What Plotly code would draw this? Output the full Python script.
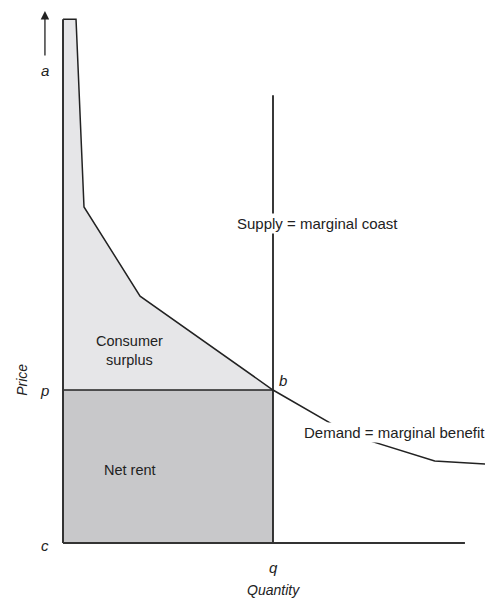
import plotly.graph_objects as go

# Data (quantity units, price units)
demand_q = [0, 6.2, 10, 36.7, 100, 137, 177, 201]
demand_p = [102.7, 102.7, 65.9, 48.4, 30, 21.2, 16.1, 15.5]
q_eq = 100
p_eq = 30
c_level = 0
supply_top = 87.8
axis_x_end = 191.4
axis_y_top = 102.7

# Consumer surplus polygon (area under demand, above p)
cs_q = [0] + demand_q[:5] + [0]
cs_p = [p_eq] + demand_p[:5] + [p_eq]

# Net rent rectangle
nr_q = [0, 0, q_eq, q_eq, 0]
nr_p = [c_level, p_eq, p_eq, c_level, c_level]

FONT = "Liberation Sans, Arial, sans-serif"
LINE = "#222222"

fig = go.Figure()
fig.add_trace(go.Scatter(x=cs_q, y=cs_p, fill="toself", fillcolor="#e6e6e8",
                         mode="none", hoverinfo="skip"))
fig.add_trace(go.Scatter(x=nr_q, y=nr_p, fill="toself", fillcolor="#c8c8ca",
                         mode="none", hoverinfo="skip"))
# demand
fig.add_trace(go.Scatter(x=demand_q, y=demand_p, mode="lines",
                         line=dict(color=LINE, width=1.5), hoverinfo="skip"))
# price line p
fig.add_trace(go.Scatter(x=[0, q_eq], y=[p_eq, p_eq], mode="lines",
                         line=dict(color=LINE, width=1.5), hoverinfo="skip"))
# supply vertical
fig.add_trace(go.Scatter(x=[q_eq, q_eq], y=[c_level, supply_top], mode="lines",
                         line=dict(color=LINE, width=1.8), hoverinfo="skip"))
# axes
fig.add_trace(go.Scatter(x=[0, axis_x_end], y=[c_level, c_level], mode="lines",
                         line=dict(color="#333333", width=2.2), hoverinfo="skip"))
fig.add_trace(go.Scatter(x=[0, 0], y=[c_level, axis_y_top], mode="lines",
                         line=dict(color="#333333", width=2), hoverinfo="skip"))

def txt(x, y, s, size=15, italic=False, bg=None, angle=0, align="center"):
    fig.add_annotation(x=x, y=y, text=s, showarrow=False, xref="x", yref="y",
                       font=dict(family=FONT, size=size, color="#222222",
                                 style="italic" if italic else "normal"),
                       bgcolor=bg, textangle=angle, align=align,
                       xanchor="center", yanchor="middle", borderpad=1)

txt(-8.6, 92.7, "a", italic=True)
txt(-8.6, 30.0, "p", italic=True)
txt(-8.6, -0.4, "c", italic=True)
txt(100, -4.9, "q", italic=True)
txt(100, -9.2, "Quantity", size=14, italic=True)
txt(-19.5, 32, "Price", size=14, italic=True, angle=-90)
txt(104.8, 31.8, "b", italic=True)
txt(31.5, 37.8, "Consumer<br>surplus", size=14.5)
txt(32, 14.3, "Net rent", size=14.5)
txt(121.4, 62.7, "Supply = marginal coast", bg="white")
txt(158, 21.6, "Demand = marginal benefit", bg="white")

# arrow on the price axis
fig.add_annotation(x=-8.6, y=104.3, ax=-8.6, ay=95.3, xref="x", yref="y",
                   axref="x", ayref="y", text="", showarrow=True,
                   arrowhead=2, arrowsize=1.3, arrowwidth=1.3, arrowcolor="#222222")

fig.update_layout(
    width=485, height=599,
    margin=dict(l=0, r=0, t=0, b=0),
    paper_bgcolor="white", plot_bgcolor="white",
    showlegend=False,
    xaxis=dict(range=[-30, 200.95], visible=False, fixedrange=True),
    yaxis=dict(range=[-10.98, 106.47], visible=False, fixedrange=True),
)
fig.write_html("out.html", config={"displayModeBar": False},
               post_script="document.body.style.margin='0';document.body.style.overflow='hidden';")
